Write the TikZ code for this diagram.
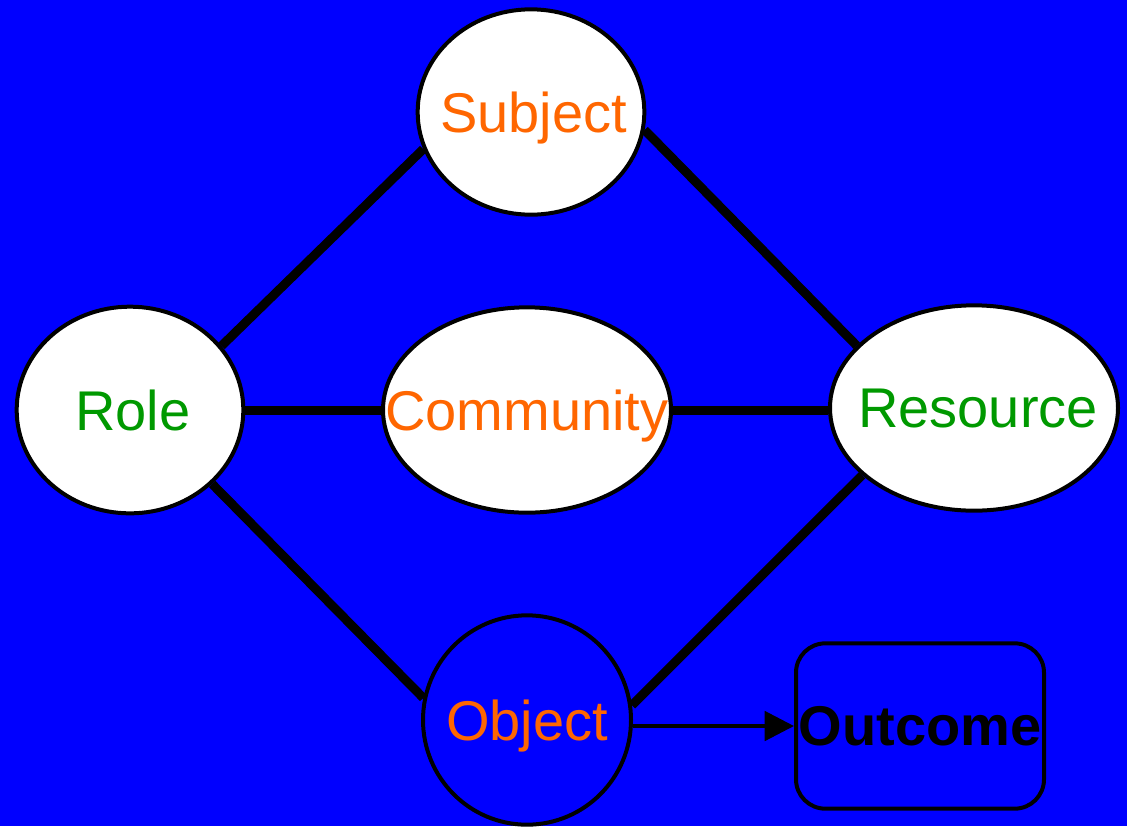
\documentclass[tikz,border=0pt]{standalone}
\usepackage{fontspec}
\setmainfont{Liberation Sans}
\usetikzlibrary{shapes.geometric,arrows.meta}
\definecolor{bgblue}{RGB}{0,0,255}
\definecolor{txtorange}{RGB}{255,102,0}
\definecolor{txtgreen}{RGB}{0,153,0}
\begin{document}
\begin{tikzpicture}[x=0.75pt,y=0.75pt,yscale=-1,xscale=1,
  oval/.style={ellipse, draw=black, line width=3pt, fill=white, inner sep=0pt},
  ovaltext/.style={font=\fontsize{42}{50}\selectfont, inner sep=0pt, text depth=0pt},
  link/.style={line width=6.75pt}]
%Background
\fill[bgblue] (0,0) rectangle (1127,826);
\useasboundingbox (0,0) rectangle (1127,826);

%Ellipses
\node[oval, minimum width=170pt, minimum height=154pt, label={[ovaltext, text=txtorange, xshift=2pt]center:Subject}] (subject) at (531,112) {};
\node[oval, minimum width=170pt, minimum height=155pt, label={[ovaltext, text=txtgreen, xshift=2pt]center:Role}] (role) at (130,410) {};
\node[oval, minimum width=216pt, minimum height=154pt, label={[ovaltext, text=txtorange]center:Community}] (community) at (527,410) {};
\node[oval, minimum width=216pt, minimum height=154pt, label={[ovaltext, text=txtgreen, xshift=3pt]center:Resource}] (resource) at (974,408) {};
\node[oval, fill=bgblue, minimum width=156pt, minimum height=157pt, label={[ovaltext, text=txtorange]center:Object}] (object) at (527,720) {};
%Rounded Rect
\node[draw=black, line width=3pt, rounded corners=22pt, minimum width=186pt, minimum height=124pt, inner sep=0pt, font=\fontsize{42}{50}\selectfont\bfseries, text depth=0pt] (outcome) at (920,726) {Outcome};

%Straight Lines
\draw[link] (role.35) -- (subject.199);
\draw[link] (subject.-9) -- (resource.152);
\draw[link] (role.east) -- (community.west);
\draw[link] (community.east) -- (community.east -| resource.west);
\draw[link] (role.-42) -- (object.168);
\draw[link] (resource.211) -- (object.8);
\draw[line width=3pt, -{Triangle[length=22pt,width=22pt]}] (object.east |- outcome.west) -- (outcome.west);

\end{tikzpicture}
\end{document}
